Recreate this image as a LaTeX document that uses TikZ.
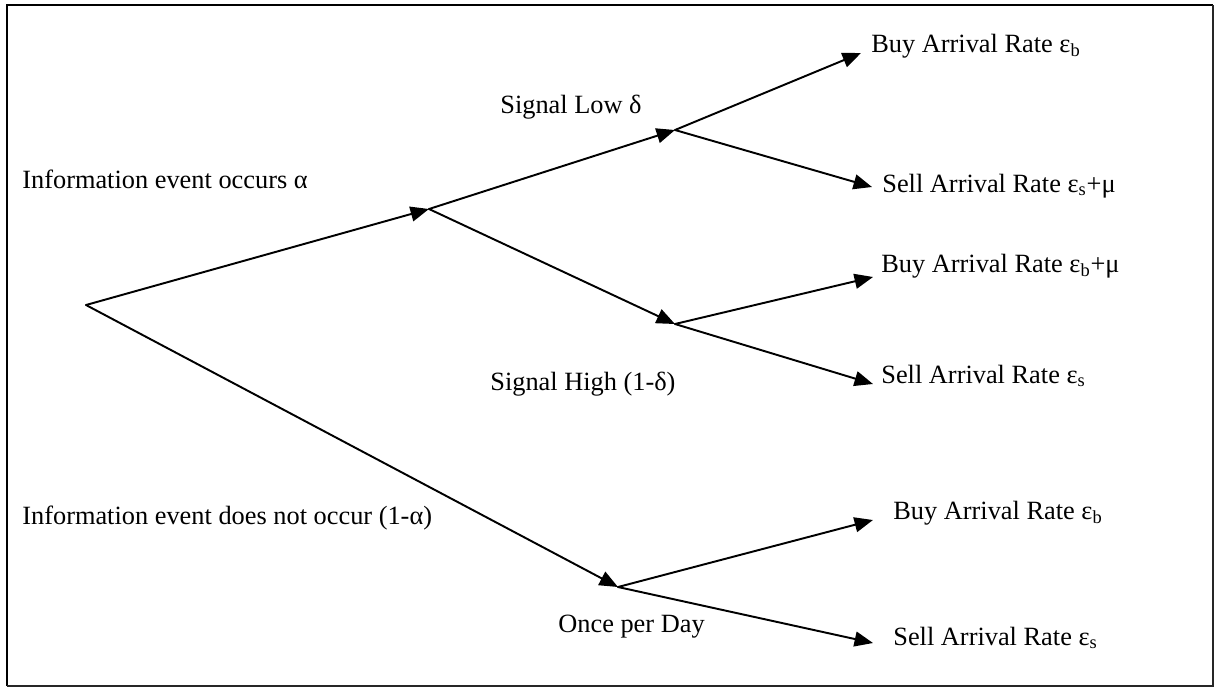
\documentclass[tikz,border=0pt]{standalone}
\usepackage{fontspec}
\setmainfont{Liberation Serif}
\usetikzlibrary{arrows.meta}
\tikzset{
  conn/.style={line width=1.1pt, line cap=round},
  arr/.style={conn, -{Triangle[length=10.5pt,width=8.5pt]}},
  lbl/.style={anchor=base west, inner sep=0pt, font=\fontsize{15}{17}\selectfont},
}
\begin{document}
\begin{tikzpicture}[x=0.02cm,y=-0.02cm]
\useasboundingbox (0,0) rectangle (1217,687);
% frame
\draw[line width=1.7pt] (7,686) -- (7,5) -- (1213,5);
\draw[line width=1.2pt, black!85] (7,686) -- (1213,686) -- (1213,5);
% branch points
\coordinate (root) at (86,305);
\coordinate (info) at (429,209);
\coordinate (low) at (675,130);
\coordinate (high) at (675,324);
\coordinate (none) at (618,587);
\coordinate (t1) at (861,53);
\coordinate (t2) at (872,187);
\coordinate (t3) at (873,277);
\coordinate (t4) at (873,384);
\coordinate (t5) at (873,520);
\coordinate (t6) at (873,643);
% connectors
\draw[arr] (root) -- (info);
\draw[arr] (root) -- (none);
\draw[arr] (info) -- (low);
\draw[arr] (info) -- (high);
\draw[arr] (low) -- (t1);
\draw[arr] (low) -- (t2);
\draw[arr] (high) -- (t3);
\draw[arr] (high) -- (t4);
\draw[arr] (none) -- (t5);
\draw[arr] (none) -- (t6);
% labels
\node[lbl] (linfo) at (22,188) {Information event occurs α};
\node[lbl] (lnone) at (22,524) {Information event does not occur (1-α)};
\node[lbl] (llow) at (500,113) {Signal Low δ};
\node[lbl] (lhigh) at (490,390) {Signal High (1-δ)};
\node[lbl] (lday) at (558,632) {Once per Day};
\node[lbl] (b1) at (871,52) {Buy Arrival Rate ε\textsubscript{b}};
\node[lbl] (s1) at (882,192) {Sell Arrival Rate ε\textsubscript{s}+μ};
\node[lbl] (b2) at (881,272) {Buy Arrival Rate ε\textsubscript{b}+μ};
\node[lbl] (s2) at (881,383) {Sell Arrival Rate ε\textsubscript{s}};
\node[lbl] (b3) at (893,519) {Buy Arrival Rate ε\textsubscript{b}};
\node[lbl] (s3) at (893,645) {Sell Arrival Rate ε\textsubscript{s}};
\end{tikzpicture}
\end{document}
